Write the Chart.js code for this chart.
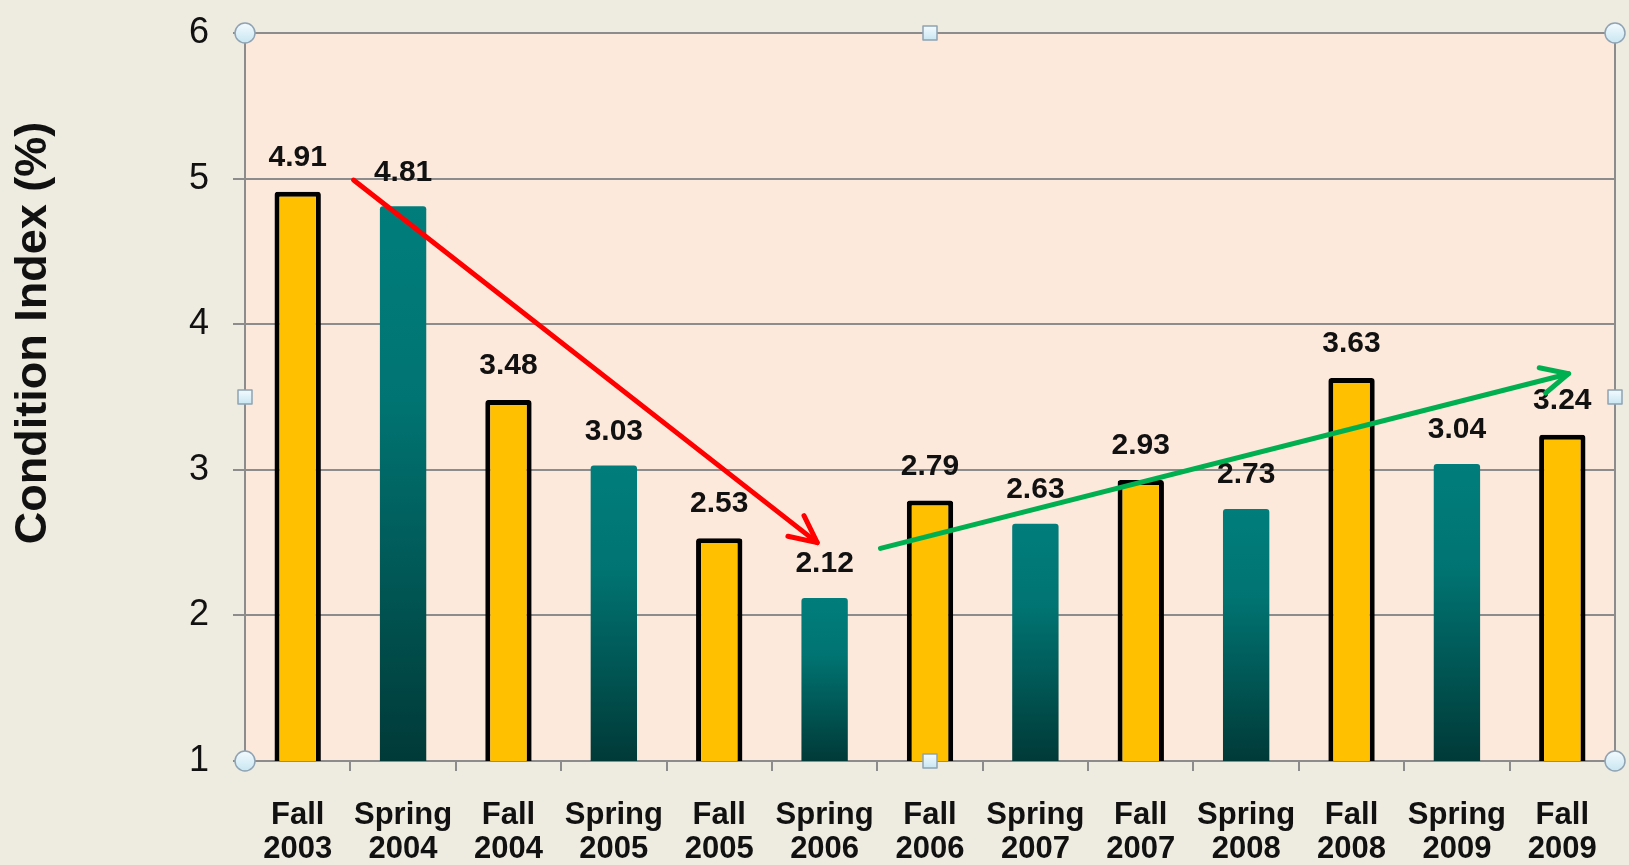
<!DOCTYPE html>
<html>
<head>
<meta charset="utf-8">
<script src="https://cdn.jsdelivr.net/npm/chart.js@4"></script>
<style>
  html,body{margin:0;padding:0;background:#eeebe0;}
  #wrap{width:1629px;height:865px;}
</style>
</head>
<body>
<div id="wrap"><canvas id="chart" width="1629" height="865"></canvas></div>
<script>
const categories=[['Fall','2003'],['Spring','2004'],['Fall','2004'],['Spring','2005'],['Fall','2005'],['Spring','2006'],['Fall','2006'],['Spring','2007'],['Fall','2007'],['Spring','2008'],['Fall','2008'],['Spring','2009'],['Fall','2009']];
const values=[4.91,4.81,3.48,3.03,2.53,2.12,2.79,2.63,2.93,2.73,3.63,3.04,3.24];
const yTicks=[1,2,3,4,5,6];
// trend arrows in data units: [category index, value]
const trendArrows=[
  {from:[0.53,4.99],to:[4.93,2.50],color:'#ff0000'},
  {from:[5.53,2.46],to:[12.06,3.66],color:'#00b050'}
];
const FONT="Arial, 'Liberation Sans', sans-serif";

function isFall(i){ return i%2==0; }

function barFill(ctx){
  const chart=ctx.chart;
  if(!chart.chartArea) return '#007b7a';
  if(isFall(ctx.dataIndex)) return '#ffc000';
  const y=chart.scales.y;
  const top=y.getPixelForValue(values[ctx.dataIndex]);
  const bottom=chart.chartArea.bottom;
  const g=chart.ctx.createLinearGradient(0,top,0,bottom);
  g.addColorStop(0,'#007e7c');
  g.addColorStop(0.35,'#007472');
  g.addColorStop(1,'#003a38');
  return g;
}

const plotBg={
  id:'plotBg',
  beforeDraw(chart){
    const a=chart.chartArea, c=chart.ctx;
    c.save();
    c.fillStyle='#fde9db';
    c.fillRect(a.left,a.top,a.right-a.left,a.bottom-a.top);
    c.restore();
  }
};

const extras={
  id:'extras',
  afterDatasetsDraw(chart){
    const c=chart.ctx, a=chart.chartArea, x=chart.scales.x, y=chart.scales.y;
    c.save();
    // frame on the right
    c.strokeStyle='#8c8c8c'; c.lineWidth=2;
    c.beginPath(); c.moveTo(a.right,a.top); c.lineTo(a.right,a.bottom); c.stroke();
    // value labels
    c.fillStyle='#111'; c.font='bold 30px '+FONT; c.textAlign='center'; c.textBaseline='middle';
    values.forEach((v,i)=>{
      c.fillText(v.toFixed(2),x.getPixelForValue(i),y.getPixelForValue(v)-34);
    });
    // arrows
    trendArrows.forEach(ar=>{
      const x1=x.getPixelForValue(ar.from[0]), y1=y.getPixelForValue(ar.from[1]);
      const x2=x.getPixelForValue(ar.to[0]), y2=y.getPixelForValue(ar.to[1]);
      c.strokeStyle=ar.color; c.lineWidth=5; c.lineCap='round'; c.lineJoin='round';
      c.beginPath(); c.moveTo(x1,y1); c.lineTo(x2,y2); c.stroke();
      const ang=Math.atan2(y2-y1,x2-x1), L=30, w=0.45;
      c.beginPath();
      c.moveTo(x2-L*Math.cos(ang-w),y2-L*Math.sin(ang-w));
      c.lineTo(x2,y2);
      c.lineTo(x2-L*Math.cos(ang+w),y2-L*Math.sin(ang+w));
      c.stroke();
    });
    // selection handles
    const mx=(a.left+a.right)/2, my=(a.top+a.bottom)/2;
    c.lineWidth=1.5; c.strokeStyle='#8fa3b3';
    [[a.left,a.top],[a.right,a.top],[a.left,a.bottom],[a.right,a.bottom]].forEach(p=>{
      const g=c.createLinearGradient(0,p[1]-10,0,p[1]+10);
      g.addColorStop(0,'#f4fbfe'); g.addColorStop(1,'#c8e6f2');
      c.fillStyle=g;
      c.beginPath(); c.arc(p[0],p[1],10,0,Math.PI*2); c.fill(); c.stroke();
    });
    [[mx,a.top],[mx,a.bottom],[a.left,my],[a.right,my]].forEach(p=>{
      const g=c.createLinearGradient(0,p[1]-7,0,p[1]+7);
      g.addColorStop(0,'#f4fbfe'); g.addColorStop(1,'#c8e6f2');
      c.fillStyle=g;
      c.fillRect(p[0]-7,p[1]-7,14,14); c.strokeRect(p[0]-7,p[1]-7,14,14);
    });
    // y axis title
    c.fillStyle='#111'; c.font='bold 45px '+FONT;
    c.translate(34,333); c.rotate(-Math.PI/2);
    c.fillText('Condition Index (%)',0,0);
    c.restore();
  }
};

new Chart(document.getElementById('chart'),{
  type:'bar',
  data:{
    labels:categories,
    datasets:[{
      data:values,
      backgroundColor:barFill,
      borderColor:ctx=>isFall(ctx.dataIndex)?'#000000':'rgba(0,0,0,0)',
      borderWidth:ctx=>isFall(ctx.dataIndex)?5:0,
      borderRadius:3,
      borderSkipped:false,
      barPercentage:0.44,
      categoryPercentage:1
    }]
  },
  options:{
    responsive:false,
    animation:false,
    layout:{padding:{top:28,right:14,left:0,bottom:0}},
    plugins:{legend:{display:false},tooltip:{enabled:false}},
    scales:{
      x:{
        grid:{drawOnChartArea:false,color:'#8c8c8c',lineWidth:2,tickLength:10},
        border:{color:'#8c8c8c',width:2},
        ticks:{color:'#111',font:{family:FONT,size:31,weight:'bold',lineHeight:1.1},padding:27,maxRotation:0,autoSkip:false},
        afterFit(s){ s.height=104; }
      },
      y:{
        min:1,max:6,
        afterBuildTicks(s){ s.ticks=yTicks.map(v=>({value:v})); },
        grid:{color:'#8c8c8c',lineWidth:2,tickLength:12},
        border:{color:'#8c8c8c',width:2},
        ticks:{color:'#111',font:{family:FONT,size:36,lineHeight:0.5},padding:24},
        afterFit(s){ s.width=245; }
      }
    }
  },
  plugins:[plotBg,extras]
});
</script>
</body>
</html>
